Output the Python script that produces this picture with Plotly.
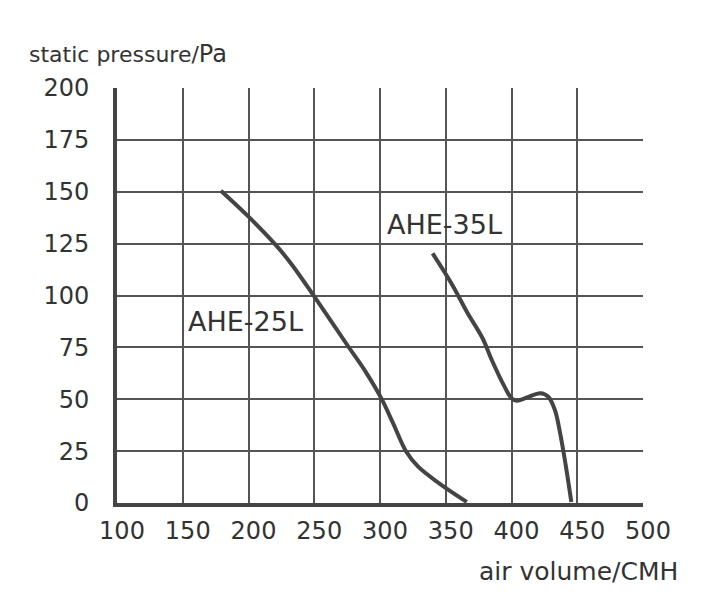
import plotly.graph_objects as go

# AHE-25L curve (air volume CMH, static pressure Pa)
ahe25_x = [179, 200, 223, 234, 251, 276, 289, 301, 310, 320, 329, 345, 366]
ahe25_y = [150.5, 138, 122.7, 114, 98.6, 75.3, 63.3, 50.4, 38.4, 24.7, 17.5, 9.5, 0.5]

# AHE-35L curve
ahe35_x = [340, 355, 366, 378, 385, 394, 400, 404, 412, 422, 428, 433, 437, 441, 445.5]
ahe35_y = [120.3, 105.1, 92.2, 79.4, 68.9, 56.9, 50.5, 49.3, 50.9, 52.9, 51.2, 44.8, 33.6, 19.1, 0.5]

x_ticks = [100, 150, 200, 250, 300, 350, 400, 450, 500]
y_ticks = [0, 25, 50, 75, 100, 125, 150, 175, 200]

series_labels = ["AHE-25L", "AHE-35L"]
label_pos = [(198, 87.4), (349.3, 134.2)]

FONT = "DejaVu Sans"
TXT = "#333333"
GRID = "#555555"
CURVE = "#444444"

fig = go.Figure()
for xs, ys, name in [(ahe25_x, ahe25_y, series_labels[0]), (ahe35_x, ahe35_y, series_labels[1])]:
    fig.add_trace(go.Scatter(x=xs, y=ys, mode="lines", name=name,
                             line=dict(color=CURVE, width=4, shape="spline", smoothing=1.0),
                             showlegend=False))

for (lx, ly), name in zip(label_pos, series_labels):
    fig.add_annotation(x=lx, y=ly, xref="x", yref="y", text=name, showarrow=False,
                       font=dict(family=FONT, size=27, color=TXT),
                       xanchor="center", yanchor="middle")

fig.add_annotation(x=-0.171, y=1.082, xref="paper", yref="paper",
                   text="static pressure/<span style='font-size:24px'>Pa</span>",
                   showarrow=False, xanchor="left", yanchor="middle",
                   font=dict(family=FONT, size=22, color=TXT))
fig.add_annotation(x=1.070, y=-0.164, xref="paper", yref="paper",
                   text="air volume/CMH", showarrow=False, xanchor="right", yanchor="middle",
                   font=dict(family=FONT, size=25, color=TXT))

fig.update_xaxes(range=[100, 500], tickvals=x_ticks, ticktext=[str(v) for v in x_ticks],
                 showgrid=True, gridcolor=GRID, gridwidth=2,
                 showline=True, linecolor="#444444", linewidth=4,
                 zeroline=False, ticks="", ticklabelstandoff=3, ticklabelshift=5,
                 tickfont=dict(family=FONT, size=24, color=TXT))
fig.update_yaxes(range=[0, 200], tickvals=y_ticks, ticktext=[str(v) for v in y_ticks],
                 showgrid=True, gridcolor=GRID, gridwidth=2,
                 showline=True, linecolor="#444444", linewidth=4,
                 zeroline=False, ticks="", ticklabelstandoff=19,
                 tickfont=dict(family=FONT, size=24, color=TXT))

# page body adds an 8px offset, so margins are shifted up/left to compensate
fig.update_layout(width=711, height=599, margin=dict(l=109, r=76, t=80, b=104),
                  plot_bgcolor="white", paper_bgcolor="white")

fig.write_html("out.html")
